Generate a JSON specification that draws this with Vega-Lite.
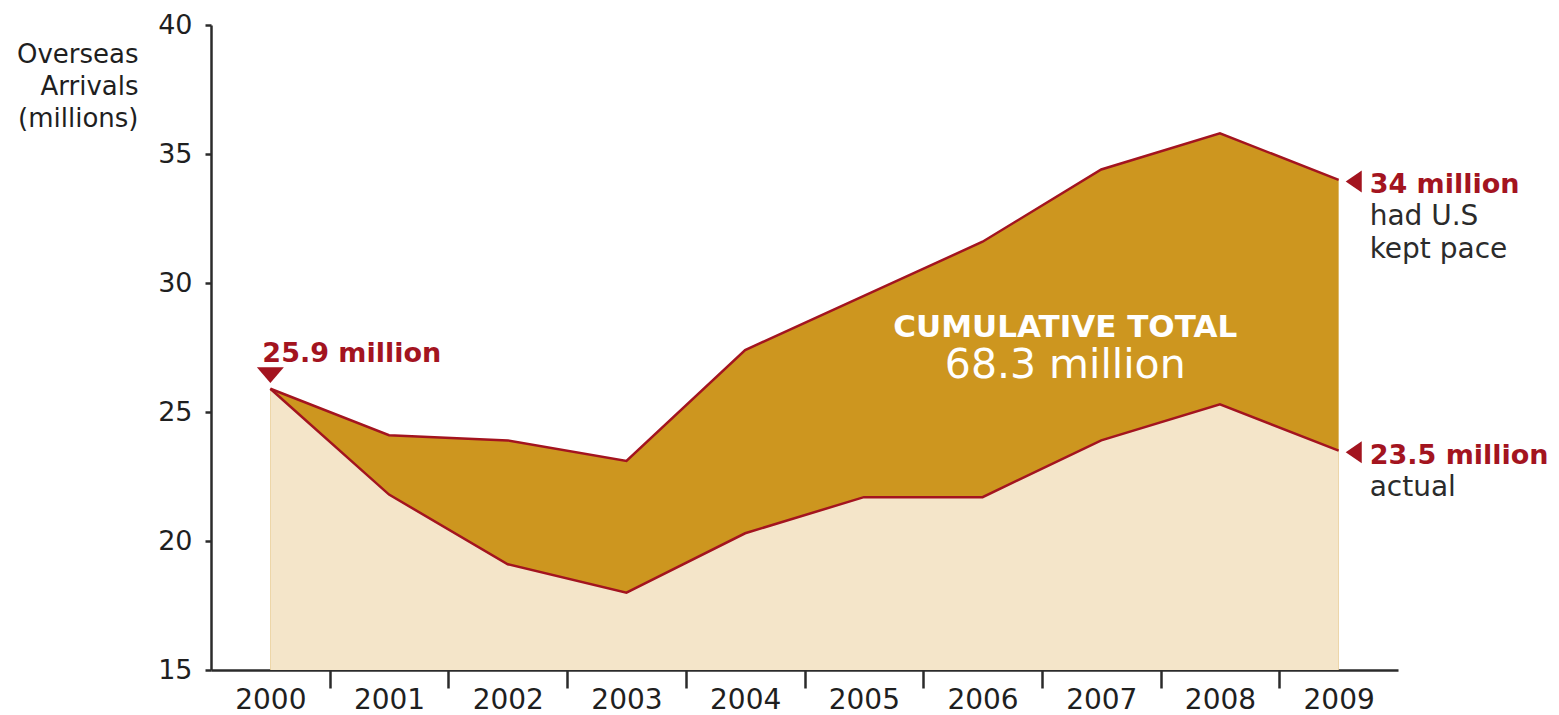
{
  "$schema": "https://vega.github.io/schema/vega-lite/v6.json",
  "width": 1187,
  "height": 645,
  "autosize": {"type": "none"},
  "padding": {"left": 211, "top": 25, "right": 161, "bottom": 45},
  "background": "white",
  "config": {
    "view": {"stroke": null},
    "font": "DejaVu Sans"
  },
  "datasets": {
    "series": [
      {"year": 2000, "actual": 25.9, "pace": 25.9},
      {"year": 2001, "actual": 21.8, "pace": 24.1},
      {"year": 2002, "actual": 19.1, "pace": 23.9},
      {"year": 2003, "actual": 18.0, "pace": 23.1},
      {"year": 2004, "actual": 20.3, "pace": 27.4},
      {"year": 2005, "actual": 21.7, "pace": 29.5},
      {"year": 2006, "actual": 21.7, "pace": 31.6},
      {"year": 2007, "actual": 23.9, "pace": 34.4},
      {"year": 2008, "actual": 25.3, "pace": 35.8},
      {"year": 2009, "actual": 23.5, "pace": 34.0}
    ]
  },
  "encoding": {
    "x": {
      "field": "year",
      "type": "quantitative",
      "scale": {"domain": [1999.5, 2009.5], "nice": false, "zero": false},
      "axis": {
        "title": null,
        "values": [2000, 2001, 2002, 2003, 2004, 2005, 2006, 2007, 2008, 2009],
        "format": "d",
        "grid": false,
        "domainColor": "#2b2b2b",
        "domainWidth": 2.5,
        "tickColor": {"condition": {"test": "datum.value === 2009", "value": "transparent"}, "value": "#2b2b2b"},
        "tickWidth": 2.5,
        "tickSize": 18,
        "tickOffset": 59.35,
        "labelOffset": -59.35,
        "labelFontSize": 28,
        "labelColor": "#1f1f1f",
        "labelPadding": 20,
        "labelBaseline": "alphabetic",
        "labelFlush": false,
        "labelOverlap": false
      }
    },
    "y": {
      "type": "quantitative",
      "scale": {"domain": [15, 40], "nice": false, "zero": false},
      "axis": {
        "title": ["Overseas", "Arrivals", "(millions)"],
        "titleAngle": 0,
        "titleAlign": "right",
        "titleBaseline": "alphabetic",
        "titleX": -73,
        "titleY": 37,
        "titleLineHeight": 32,
        "titleFontSize": 26,
        "titleFontWeight": "normal",
        "titleColor": "#1f1f1f",
        "values": [15, 20, 25, 30, 35, 40],
        "grid": false,
        "domainColor": "#2b2b2b",
        "domainWidth": 2.5,
        "tickColor": "#2b2b2b",
        "tickWidth": 2.5,
        "tickSize": 6,
        "labelPadding": 13,
        "labelFontSize": 27,
        "labelColor": "#1f1f1f"
      }
    }
  },
  "layer": [
    {
      "data": {"name": "series"},
      "mark": {"type": "area", "color": "#CD961F", "opacity": 1},
      "encoding": {"y": {"field": "pace"}, "y2": {"datum": 15}}
    },
    {
      "data": {"name": "series"},
      "mark": {"type": "area", "color": "#F4E5C9", "opacity": 1},
      "encoding": {"y": {"field": "actual"}, "y2": {"datum": 15}}
    },
    {
      "data": {"name": "series"},
      "mark": {"type": "line", "color": "#A3141F", "strokeWidth": 2.5},
      "encoding": {"y": {"field": "pace"}}
    },
    {
      "data": {"name": "series"},
      "mark": {"type": "line", "color": "#A3141F", "strokeWidth": 2.5},
      "encoding": {"y": {"field": "actual"}}
    },
    {
      "data": {"values": [{"year": 2000, "value": 25.9}]},
      "mark": {"type": "point", "shape": "M-1,-1.6L1,-1.6L0,-0.43Z", "filled": true, "color": "#A3141F", "opacity": 1, "size": 729, "strokeWidth": 0},
      "encoding": {"y": {"field": "value"}}
    },
    {
      "data": {"values": [{"year": 2009, "value": 34.0}, {"year": 2009, "value": 23.5}]},
      "mark": {"type": "point", "shape": "M2.1,-0.85L2.1,1.15L0.64,0.15Z", "filled": true, "color": "#A3141F", "opacity": 1, "size": 484, "strokeWidth": 0},
      "encoding": {"y": {"field": "value"}}
    },
    {
      "data": {"values": [{"year": 2000, "value": 25.9, "label": "25.9 million"}]},
      "mark": {"type": "text", "align": "left", "baseline": "alphabetic", "dx": -8, "dy": -27, "fontSize": 27, "fontWeight": "bold", "color": "#A3141F"},
      "encoding": {"y": {"field": "value"}, "text": {"field": "label"}}
    },
    {
      "data": {"values": [{"year": 2009, "value": 34.0, "label": "34 million"}, {"year": 2009, "value": 23.5, "label": "23.5 million"}]},
      "mark": {"type": "text", "align": "left", "baseline": "alphabetic", "dx": 31, "dy": 13, "fontSize": 27, "fontWeight": "bold", "color": "#A3141F"},
      "encoding": {"y": {"field": "value"}, "text": {"field": "label"}}
    },
    {
      "data": {"values": [{"year": 2009, "value": 34.0, "label": ["had U.S", "kept pace"]}, {"year": 2009, "value": 23.5, "label": ["actual"]}]},
      "mark": {"type": "text", "align": "left", "baseline": "alphabetic", "dx": 31, "dy": 45, "lineHeight": 33, "fontSize": 28, "color": "#2b2b2b"},
      "encoding": {"y": {"field": "value"}, "text": {"field": "label"}}
    },
    {
      "data": {"values": [{"year": 2007, "value": 28, "label": "CUMULATIVE TOTAL"}]},
      "mark": {"type": "text", "align": "center", "baseline": "alphabetic", "dx": -36, "dy": 2, "fontSize": 31, "fontWeight": "bold", "color": "white"},
      "encoding": {"y": {"field": "value"}, "text": {"field": "label"}}
    },
    {
      "data": {"values": [{"year": 2007, "value": 28, "label": "68.3 million"}]},
      "mark": {"type": "text", "align": "center", "baseline": "alphabetic", "dx": -36, "dy": 43, "fontSize": 41, "color": "white"},
      "encoding": {"y": {"field": "value"}, "text": {"field": "label"}}
    }
  ]
}
